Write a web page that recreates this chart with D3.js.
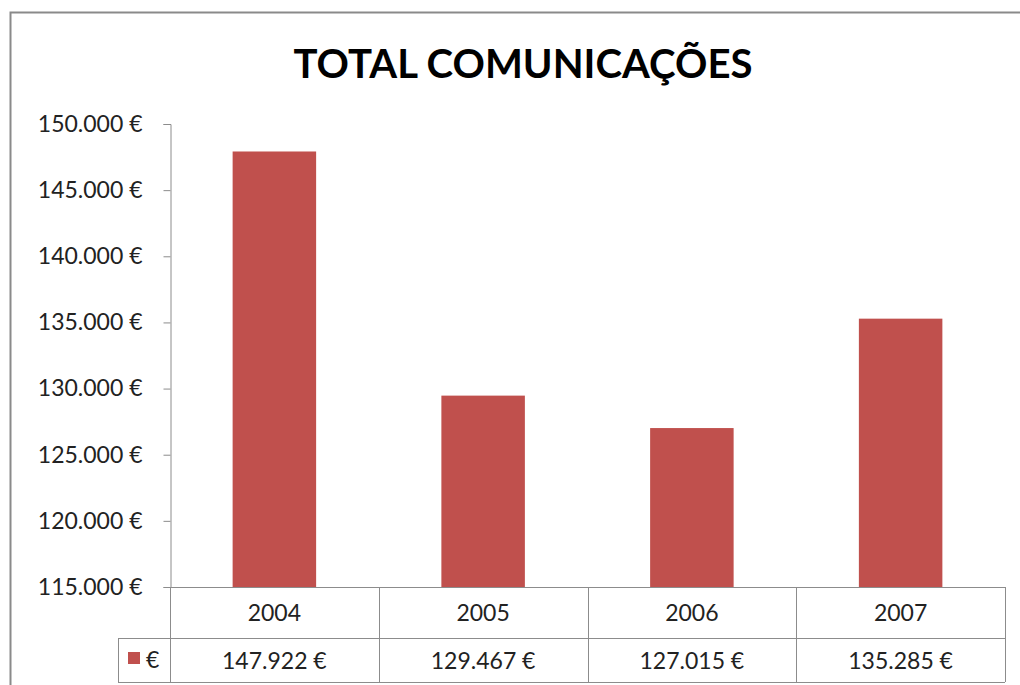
<!DOCTYPE html>
<html><head><meta charset="utf-8">
<script src="https://cdn.jsdelivr.net/npm/d3@7"></script>
<style>body{margin:0;background:#fff}svg{display:block}</style>
</head><body>
<svg id="c" width="1020" height="685"></svg>
<script>
const categories = ["2004","2005","2006","2007"];
const values = [147922, 129467, 127015, 135285];
const yTicks = [115000,120000,125000,130000,135000,140000,145000,150000];
const seriesName = "€";
const title = "TOTAL COMUNICAÇÕES";

(function(){
const fmt = v => d3.format(",")(v).replace(/,/g, ".") + " €";
const font = "Lato, 'Open Sans', sans-serif";
const svg = d3.select("#c");
const grey = "#8c8c8c";
const fs = 23;

// outer frame
svg.append("path").attr("d","M10.5,685 L10.5,12.5 L1020,12.5").attr("fill","none").attr("stroke","#8a8a8a").attr("stroke-width",2);

svg.append("text").attr("x",523).attr("y",78).attr("text-anchor","middle")
  .attr("font-family",font).attr("font-weight","bold").attr("font-size",41)
  .attr("fill","#000").attr("textLength",459).attr("lengthAdjust","spacingAndGlyphs").text(title);

const pLeft = 170, pRight = 1005, pTop = 124, pBottom = 587;
const x = d3.scaleBand().domain(categories).range([pLeft,pRight]).paddingInner(0.6).paddingOuter(0.3);
const xb = d3.scaleBand().domain(categories).range([pLeft,pRight]);
const y = d3.scaleLinear().domain([115000,150000]).range([pBottom,pTop]);

svg.selectAll("rect.bar").data(values).enter().append("rect")
  .attr("x",(d,i)=>x(categories[i])).attr("width",x.bandwidth())
  .attr("y",d=>y(d)).attr("height",d=>pBottom-y(d)).attr("fill","#C0504D");

const ya = svg.append("g").attr("transform",`translate(${pLeft+0.5},0)`)
  .call(d3.axisLeft(y).tickValues(yTicks).tickFormat(fmt).tickSize(7).tickPadding(21));
ya.select(".domain").attr("stroke",grey);
ya.selectAll(".tick line").attr("stroke",grey);
ya.selectAll("text").attr("font-family",font).attr("font-size",fs).attr("fill","#222");

// data table
const rowH1 = 638, rowH2 = 682, legLeft = 118;
const g = svg.append("g").attr("stroke",grey).attr("stroke-width",1).attr("fill","none");
g.append("line").attr("x1",pLeft).attr("x2",pRight).attr("y1",pBottom+0.5).attr("y2",pBottom+0.5);
g.append("line").attr("x1",legLeft).attr("x2",pRight).attr("y1",rowH1+0.5).attr("y2",rowH1+0.5);
g.append("line").attr("x1",legLeft).attr("x2",pRight).attr("y1",rowH2+0.5).attr("y2",rowH2+0.5);
g.append("line").attr("x1",legLeft+0.5).attr("x2",legLeft+0.5).attr("y1",rowH1).attr("y2",rowH2);
categories.concat(["end"]).forEach((c,i)=>{
  const xx = i<categories.length ? xb(c) : pRight;
  g.append("line").attr("x1",Math.round(xx)+0.5).attr("x2",Math.round(xx)+0.5).attr("y1",pBottom).attr("y2",rowH2);
});
svg.selectAll("text.cat").data(categories).enter().append("text")
  .attr("x",d=>xb(d)+xb.bandwidth()/2).attr("y",621).attr("text-anchor","middle")
  .attr("font-family",font).attr("font-size",fs).attr("fill","#222").text(d=>d);
svg.selectAll("text.val").data(values).enter().append("text")
  .attr("x",(d,i)=>xb(categories[i])+xb.bandwidth()/2).attr("y",669).attr("text-anchor","middle")
  .attr("font-family",font).attr("font-size",fs).attr("fill","#222").text(d=>fmt(d));
svg.append("rect").attr("x",128).attr("y",652).attr("width",12).attr("height",12).attr("fill","#C0504D");
svg.append("text").attr("x",146).attr("y",668).attr("font-family",font).attr("font-size",fs).attr("fill","#222").text(seriesName);
})();
</script>
</body></html>
